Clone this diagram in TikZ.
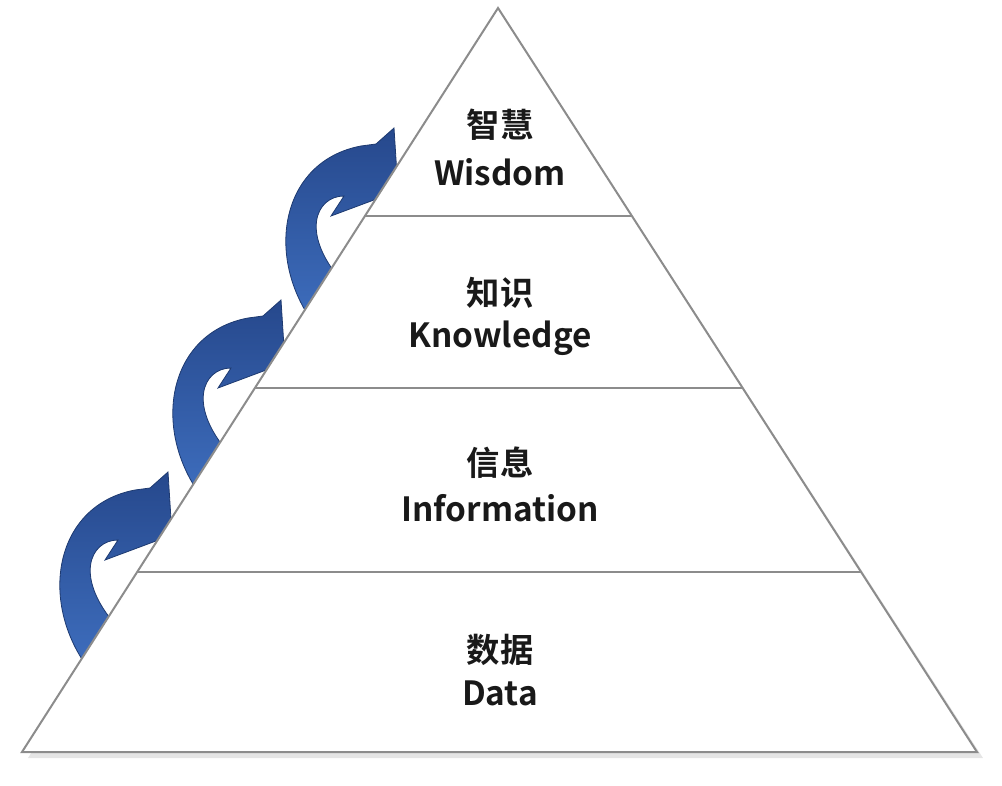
\documentclass[tikz,border=0pt]{standalone}
\usepackage{fontspec}
\setmainfont{Noto Sans CJK SC}[BoldFont={Noto Sans CJK SC Bold}]
\definecolor{adark}{RGB}{38,72,140}
\definecolor{alight}{RGB}{62,110,190}
\begin{document}
\begin{tikzpicture}[x=0.75pt,y=-0.75pt,
  edge/.style={draw=black!45,line width=1.5pt,line join=miter},
  lab/.style={font=\bfseries\fontsize{25}{27}\selectfont,text=black!90,inner sep=0pt},
  arr/.style={top color=adark,bottom color=alight,draw=adark!80!black,line width=0.6pt}]
\useasboundingbox (0,0) rectangle (1002,785);
% shadow
\fill[black!10] (502,14) -- (983,758) -- (28,758) -- cycle;
\fill[white] (498,8) -- (977,752) -- (22,752) -- cycle;
% arrows
\begin{scope}
\clip (-50,-100) -- (567,-100) -- (-9,800) -- (-50,800) -- cycle;
\foreach \i in {0,1,2}{
\begin{scope}[shift={(113*\i,-172*\i)}]
\path[arr] (88,668) .. controls (38,600) and (55,505) .. (135,490) -- (150,488) -- (168,472) -- (172,535) -- (105,560) -- (118,540) .. controls (90,540) and (72,578) .. (120,630) -- cycle;
\end{scope}}
\end{scope}
\draw[edge] (498,8) -- (977,752) -- (22,752) -- cycle;
\draw[edge] (365,216) -- (632,216);
\draw[edge] (255,388) -- (743,388);
\draw[edge] (137,572) -- (861,572);
\node[lab] (w1) at (500,125) {智慧};
\node[lab] (w2) at (500,172) {Wisdom};
\node[lab] (k1) at (500,293) {知识};
\node[lab] (k2) at (500,338) {Knowledge};
\node[lab] (i1) at (500,463) {信息};
\node[lab] (i2) at (500,508) {Information};
\node[lab] (d1) at (500,650) {数据};
\node[lab] (d2) at (500,693) {Data};
\end{tikzpicture}
\end{document}
